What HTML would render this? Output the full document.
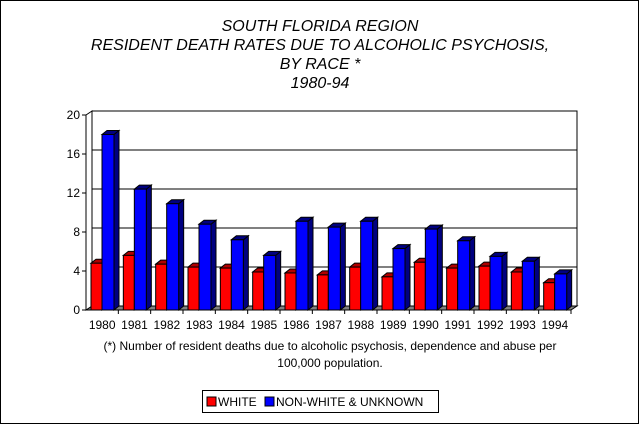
<!DOCTYPE html>
<html><head><meta charset="utf-8"><style>
html,body{margin:0;padding:0;background:#fff;}
svg{display:block;font-family:"Liberation Sans",Arial,sans-serif;}
</style></head><body>
<svg id="chart" width="639" height="424" viewBox="0 0 639 424">
<rect x="0.5" y="0.5" width="638" height="423" fill="#fff" stroke="#000"/>
<g font-style="italic" font-size="16" text-anchor="middle">
<text x="320" y="31">SOUTH FLORIDA REGION</text>
<text x="320" y="50">RESIDENT DEATH RATES DUE TO ALCOHOLIC PSYCHOSIS,</text>
<text x="320" y="69">BY RACE *</text>
<text x="320" y="88">1980-94</text>
</g>
<g id="plot"></g>
<g font-size="12" text-anchor="middle">
<text x="330" y="350">(*) Number of resident deaths due to alcoholic psychosis, dependence and abuse per</text>
<text x="330" y="367">100,000 population.</text>
</g>
<g>
<rect x="202.5" y="390.5" width="236" height="22" fill="#fff" stroke="#000"/>
<rect x="207" y="397" width="9" height="9" fill="#f00" stroke="#000"/>
<text x="218" y="406" font-size="12">WHITE</text>
<rect x="265" y="397" width="9" height="9" fill="#00f" stroke="#000"/>
<text x="276" y="406" font-size="12">NON-WHITE &amp; UNKNOWN</text>
</g>
</svg>
<script>
const categories=["1980","1981","1982","1983","1984","1985","1986","1987","1988","1989","1990","1991","1992","1993","1994"];
const whiteValues=[4.8,5.6,4.7,4.4,4.3,3.9,3.8,3.6,4.4,3.4,4.9,4.3,4.5,3.9,2.8];
const nonWhiteValues=[18.0,12.4,10.9,8.8,7.2,5.6,9.1,8.5,9.1,6.3,8.3,7.1,5.5,5.0,3.7];
const yTicks=[0,4,8,12,16,20];

const NS="http://www.w3.org/2000/svg";
const plot=document.getElementById('plot');
const x0=86,x1=571,y0=310,yTop=115,dx=6,dy=-4,bd=5;
const yMax=20;
const ys=v=>y0-(v/yMax)*(y0-yTop);
const cw=(x1-x0)/categories.length;
const xs=i=>x0+i*cw;
function mk(tag,attrs){const e=document.createElementNS(NS,tag);for(const k in attrs)e.setAttribute(k,attrs[k]);plot.appendChild(e);return e;}
// back wall
let wall=mk('rect',{x:x0+dx,y:yTop+dy,width:x1-x0,height:y0-yTop,fill:'#fff',stroke:'#000'});


// floor
let floor=mk('polygon',{points:`${x0},${y0} ${x0+dx},${y0+dy} ${x1+dx},${y0+dy} ${x1},${y0}`,fill:'#808080',stroke:'#000'});


// left wall
let lw=mk('polygon',{points:`${x0},${yTop} ${x0+dx},${yTop+dy} ${x0+dx},${y0+dy} ${x0},${y0}`,fill:'#fff',stroke:'#000'});


yTicks.forEach(t=>{
  const y=ys(t);
  if(t>0){let g=mk('line',{x1:x0+dx,y1:y+dy,x2:x1+dx,y2:y+dy,stroke:'#000'});
  
  }
  let tk=mk('line',{x1:x0-4,y1:y,x2:x0,y2:y,stroke:'#000'});
  
  
  let tx=mk('text',{x:x0-6,y:y+4,'text-anchor':'end','font-size':12});
  tx.textContent=t;
  
  
});
let ax=mk('line',{x1:x0,y1:yTop,x2:x0,y2:y0,stroke:'#000'});


let xa=mk('line',{x1:x0,y1:y0,x2:x1,y2:y0,stroke:'#000'});


function bar(x,w,v,front,side,name){
  const y=ys(v);
  const g=document.createElementNS(NS,'g');plot.appendChild(g);
  
  
  const a=(t,o)=>{const e=document.createElementNS(NS,t);for(const k in o)e.setAttribute(k,o[k]);g.appendChild(e);};
  a('polygon',{points:`${x+w},${y} ${x+w+bd},${y-bd+1} ${x+w+bd},${y0-bd+1} ${x+w},${y0}`,fill:side,stroke:'#000'});
  a('polygon',{points:`${x},${y} ${x+bd},${y-bd+1} ${x+w+bd},${y-bd+1} ${x+w},${y}`,fill:side,stroke:'#000'});
  a('rect',{x:x,y:y,width:w,height:y0-y,fill:front,stroke:'#000'});
}
categories.forEach((c,i)=>{
  const cx=xs(i);
  bar(cx+5,11,whiteValues[i],'#f00','#b00000','bar-white-'+c);
  bar(cx+16,12,nonWhiteValues[i],'#00f','#000080','bar-nonwhite-'+c);
  let tk=mk('line',{x1:cx+cw,y1:y0,x2:cx+cw,y2:y0+4,stroke:'#000'});
  
  
  let tx=mk('text',{x:cx+cw/2,y:y0+19,'text-anchor':'middle','font-size':12});
  tx.textContent=c;
  
  
});
</script>
</body></html>
